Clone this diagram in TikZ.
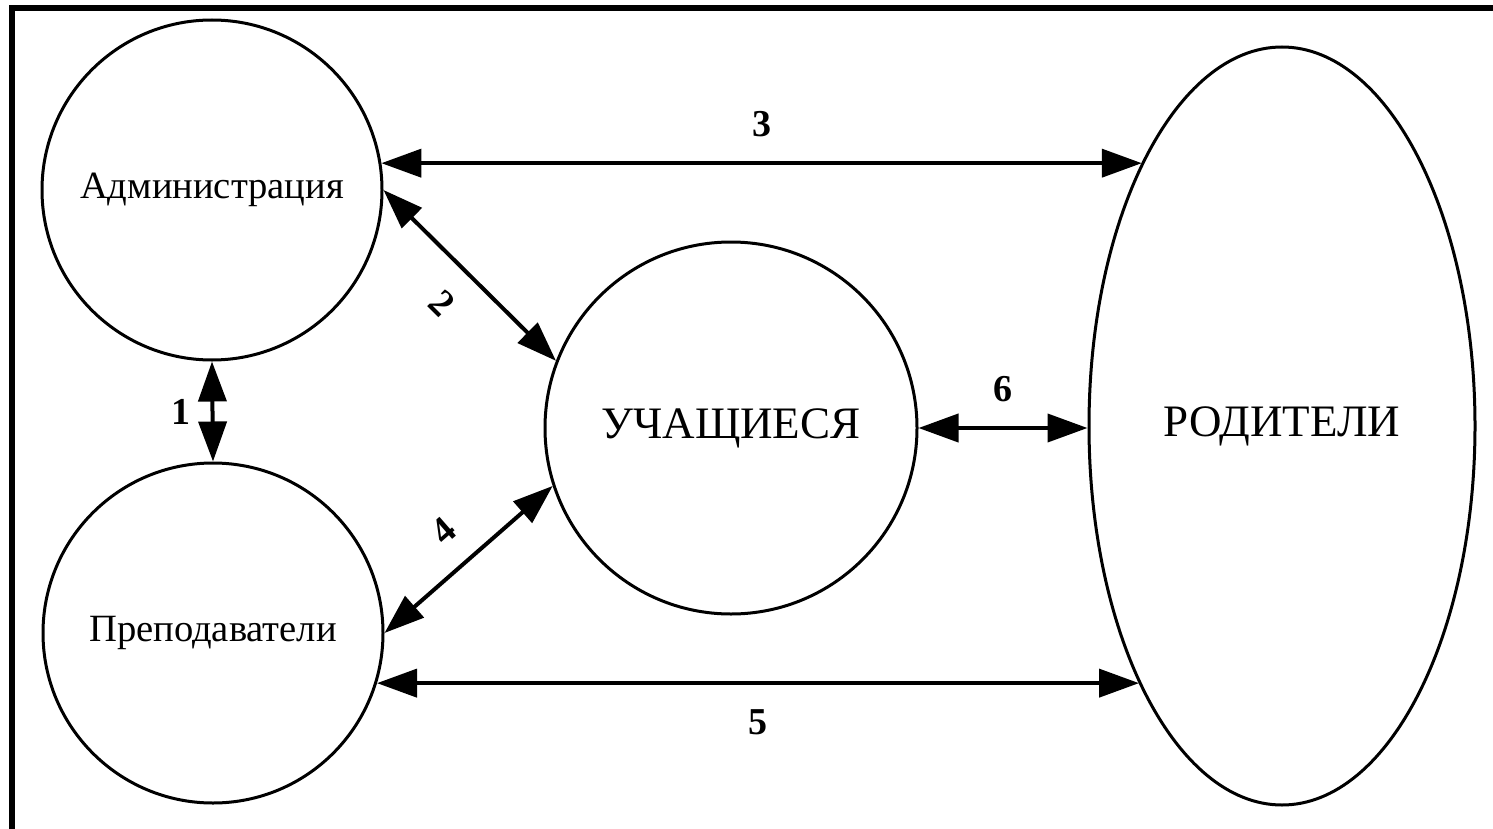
\documentclass[tikz,border=0pt]{standalone}
\usepackage{fontspec}
\setmainfont{Liberation Serif}
\usetikzlibrary{arrows.meta,shapes.geometric,calc}
\begin{document}
\begin{tikzpicture}[x=0.5pt,y=-0.5pt,
  entity/.style={circle,draw,line width=1.5pt,inner sep=0pt,minimum size=170pt},
  link/.style={line width=2pt,{Triangle[length=20pt,width=14pt]}-{Triangle[length=20pt,width=14pt]}},
  num/.style={font=\fontsize{19}{19}\selectfont\bfseries,inner sep=0pt},
  smalltext/.style={font=\fontsize{19.3}{21}\selectfont},
  bigtext/.style={font=\fontsize{22.5}{24}\selectfont}]
\fill[white] (0,0) rectangle (1493,829);
\useasboundingbox (0,0) rectangle (1493,829);
\draw[line width=3pt] (11.5,829) -- (11.5,8.5) -- (1493,8.5);
\node[entity,smalltext] (adm) at (212,190) {Администрация};
\node[entity,smalltext] (prep) at (213,633) {Преподаватели};
\node[entity,bigtext,minimum size=186pt] (stu) at (731,428) {УЧАЩИЕСЯ};
\node[ellipse,draw,line width=1.5pt,inner sep=0pt,minimum width=193pt,minimum height=379pt,bigtext] (rod) at (1282,426) {РОДИТЕЛИ};
\draw[link] (adm.south) -- node[num,left=10pt]{1} (prep.north);
\draw[link] (adm.east) -- node[num,sloped,below=12pt]{2} (stu.159);
\draw[link] (adm.9) -- node[num,above=12pt]{3} (adm.9 -| rod.118);
\draw[link] (prep.east) -- node[num,sloped,above=12pt]{4} (stu.198);
\draw[link] (prep.-17) -- node[num,below=12pt]{5} (prep.-17 -| rod.241);
\draw[link] (stu.east) -- node[num,above=12pt]{6} (stu.east -| rod.west);
\end{tikzpicture}
\end{document}
